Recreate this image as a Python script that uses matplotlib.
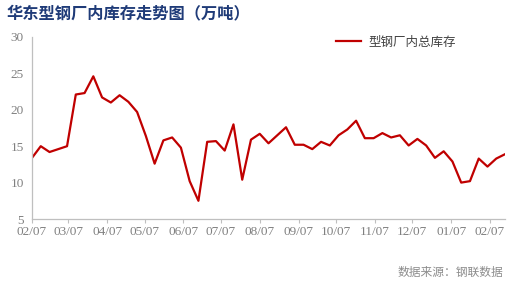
import matplotlib
matplotlib.use("Agg")
import matplotlib.pyplot as plt
import matplotlib.dates as mdates
import pandas as pd

plt.rcParams['font.family'] = ['Noto Sans CJK SC', 'DejaVu Sans']

title = "华东型钢厂内库存走势图（万吨）"
series_name = "型钢厂内总库存"
source = "数据来源：钢联数据"

start_date = "2020-02-07"
inventory = [13.4, 15.0, 14.2, 14.6, 15.0, 22.1, 22.3, 24.6, 21.7, 21.0,
             22.0, 21.1, 19.7, 16.4, 12.6, 15.8, 16.2, 14.8, 10.2, 7.5,
             15.6, 15.7, 14.4, 18.0, 10.4, 15.9, 16.7, 15.4, 16.5, 17.6,
             15.2, 15.2, 14.6, 15.6, 15.1, 16.5, 17.3, 18.5, 16.1, 16.1,
             16.8, 16.2, 16.5, 15.1, 16.0, 15.1, 13.4, 14.3, 12.9, 10.0,
             10.2, 13.3, 12.2, 13.3, 13.9]
dates = pd.date_range(start_date, periods=len(inventory), freq="7D")
tick_dates = pd.date_range("2020-02-01", "2021-02-07", freq="MS") + pd.Timedelta(days=6)
yticks = [5, 10, 15, 20, 25, 30]

fig = plt.figure(figsize=(5.27, 2.88), dpi=100)
ax = fig.add_axes([32/527, 1 - 219/288, (505-32)/527, (219-37)/288])

ax.plot(dates, inventory, color="#c00000", lw=1.6, label=series_name)
ax.set_xlim(dates[0], dates[-1])
ax.set_ylim(5, 30)
ax.set_yticks(yticks)
ax.set_xticks(tick_dates)
ax.xaxis.set_major_formatter(mdates.DateFormatter("%m/%d"))

for s in ["top", "right"]:
    ax.spines[s].set_visible(False)
for s in ["left", "bottom"]:
    ax.spines[s].set_color("#bfbfbf")
    ax.spines[s].set_linewidth(0.9)
ax.tick_params(axis="y", length=0, pad=6, labelcolor="#808080")
ax.tick_params(axis="x", length=3, color="#bfbfbf", pad=2, labelcolor="#808080")
for lab in ax.get_xticklabels() + ax.get_yticklabels():
    lab.set_family("Liberation Serif")
    lab.set_fontsize(9.5)

leg = ax.legend(loc="upper left", bbox_to_anchor=(0.618, 1.07), frameon=False,
                handlelength=2.0, handletextpad=0.6, prop={"size": 9})
for t in leg.get_texts():
    t.set_color("#404040")

fig.text(0.012, 0.955, title, fontsize=11.7, fontweight="bold", color="#1f3b78",
         ha="left", va="center")
fig.text(0.955, 0.055, source, fontsize=8.5, color="#8c8c8c", ha="right", va="center")

fig.savefig("out.png", dpi=100)
